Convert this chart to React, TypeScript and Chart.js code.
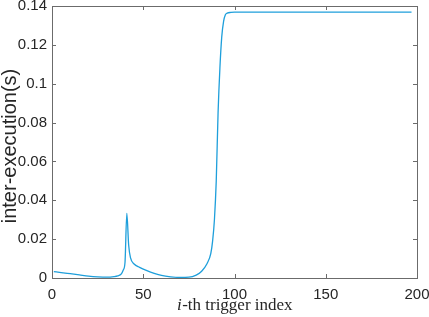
import React, { useEffect, useRef } from "react";
import { Chart, registerables } from "chart.js";

Chart.register(...registerables);

const xValues = [1, 5, 10, 15, 20, 25, 30, 34, 36, 38, 39, 40, 41, 42, 43, 45, 48, 52, 56, 60, 65, 70, 75, 79, 82, 85, 87, 88, 89, 90, 91, 92, 93, 94, 95, 96, 98, 100, 120, 150, 197];
const yValues = [0.0033, 0.0028, 0.0022, 0.0016, 0.001, 0.0006, 0.0004, 0.0007, 0.0011, 0.0021, 0.004, 0.008, 0.0333, 0.017, 0.0105, 0.0072, 0.0055, 0.0038, 0.0024, 0.0013, 0.0006, 0.0003, 0.0004, 0.0015, 0.0035, 0.0075, 0.0125, 0.019, 0.03, 0.05, 0.085, 0.108, 0.124, 0.132, 0.1355, 0.1363, 0.1367, 0.1368, 0.1368, 0.1368, 0.1368];
const xTicks = [0, 50, 100, 150, 200];
const yTicks = [0, 0.02, 0.04, 0.06, 0.08, 0.1, 0.12, 0.14];
const yTickLabels = ["0", "0.02", "0.04", "0.06", "0.08", "0.1", "0.12", "0.14"];
const xTitleItalic = "i";
const xTitleRest = "-th trigger index";
const yTitle = "inter-execution(s)";

const boxPlugin = {
  id: "matlabBox",
  afterDraw(chart: any) {
    const { ctx, chartArea } = chart;
    const { left, right, top, bottom } = chartArea;
    const xs = chart.scales.x;
    const ys = chart.scales.y;
    ctx.save();
    ctx.strokeStyle = "#6b6b6b";
    ctx.lineWidth = 1;
    ctx.strokeRect(Math.round(left) + 0.5, Math.round(top) + 0.5, Math.round(right - left), Math.round(bottom - top));
    const tl = 4;
    ctx.beginPath();
    xTicks.forEach((v) => {
      const px = Math.round(xs.getPixelForValue(v)) + 0.5;
      ctx.moveTo(px, bottom);
      ctx.lineTo(px, bottom - tl);
      ctx.moveTo(px, top);
      ctx.lineTo(px, top + tl);
    });
    yTicks.forEach((v) => {
      const py = Math.round(ys.getPixelForValue(v)) + 0.5;
      ctx.moveTo(left, py);
      ctx.lineTo(left + tl, py);
      ctx.moveTo(right, py);
      ctx.lineTo(right - tl, py);
    });
    ctx.stroke();

    // x title with italic i
    ctx.fillStyle = "#262626";
    ctx.textBaseline = "alphabetic";
    const italicFont = "italic 17px 'Liberation Serif', serif";
    const normalFont = "17px 'Liberation Serif', serif";
    ctx.font = italicFont;
    const w1 = ctx.measureText(xTitleItalic).width;
    ctx.font = normalFont;
    const w2 = ctx.measureText(xTitleRest).width;
    const cx = (left + right) / 2;
    const startX = cx - (w1 + w2) / 2;
    const by = 310;
    ctx.font = italicFont;
    ctx.textAlign = "left";
    ctx.fillText(xTitleItalic, startX, by);
    ctx.font = normalFont;
    ctx.fillText(xTitleRest, startX + w1 + 0.5, by);

    // y title
    ctx.save();
    ctx.translate(16, 146);
    ctx.rotate(-Math.PI / 2);
    ctx.font = "20px 'Liberation Sans', Arial, sans-serif";
    ctx.textAlign = "center";
    ctx.textBaseline = "alphabetic";
    ctx.fillText(yTitle, 0, 0);
    ctx.restore();
    ctx.restore();
  },
};

export default function App() {
  const ref = useRef<HTMLCanvasElement>(null);
  useEffect(() => {
    if (!ref.current) return;
    const chart = new Chart(ref.current, {
      type: "line",
      data: {
        datasets: [
          {
            data: xValues.map((x, i) => ({ x, y: yValues[i] })),
            borderColor: "#1e9fdb",
            borderWidth: 1.3,
            pointRadius: 0,
            cubicInterpolationMode: "monotone",
            fill: false,
          },
        ],
      },
      options: {
        responsive: false,
        animation: false,
        layout: { padding: { left: 0, top: 0, right: 0, bottom: 0 } },
        plugins: { legend: { display: false }, tooltip: { enabled: false } },
        scales: {
          x: {
            type: "linear",
            min: 0,
            max: 200,
            afterBuildTicks: (s: any) => {
              s.ticks = xTicks.map((v) => ({ value: v }));
            },
            afterFit: (s: any) => {
              s.height = 39;
              s.paddingLeft = 0;
              s.paddingRight = 12;
            },
            grid: { display: false, drawTicks: false },
            border: { display: false },
            ticks: {
              color: "#262626",
              font: { family: "'Liberation Sans', Arial, sans-serif", size: 15 },
              padding: 8,
              maxRotation: 0,
              autoSkip: false,
            },
          },
          y: {
            type: "linear",
            min: 0,
            max: 0.14,
            afterBuildTicks: (s: any) => {
              s.ticks = yTicks.map((v) => ({ value: v }));
            },
            afterFit: (s: any) => {
              s.width = 52;
              s.paddingTop = 6;
              s.paddingBottom = 0;
            },
            grid: { display: false, drawTicks: false },
            border: { display: false },
            ticks: {
              color: "#262626",
              font: { family: "'Liberation Sans', Arial, sans-serif", size: 15 },
              padding: 5,
              autoSkip: false,
              callback: (v: any) => {
                const idx = yTicks.findIndex((t) => Math.abs(t - Number(v)) < 1e-9);
                return idx >= 0 ? yTickLabels[idx] : "";
              },
            },
          },
        },
      },
      plugins: [boxPlugin],
    });
    return () => chart.destroy();
  }, []);
  return (
    <div style={{ position: "absolute", left: 0, top: 0, width: 429, height: 317, background: "#fff" }}>
      <canvas ref={ref} width={429} height={317} />
    </div>
  );
}
